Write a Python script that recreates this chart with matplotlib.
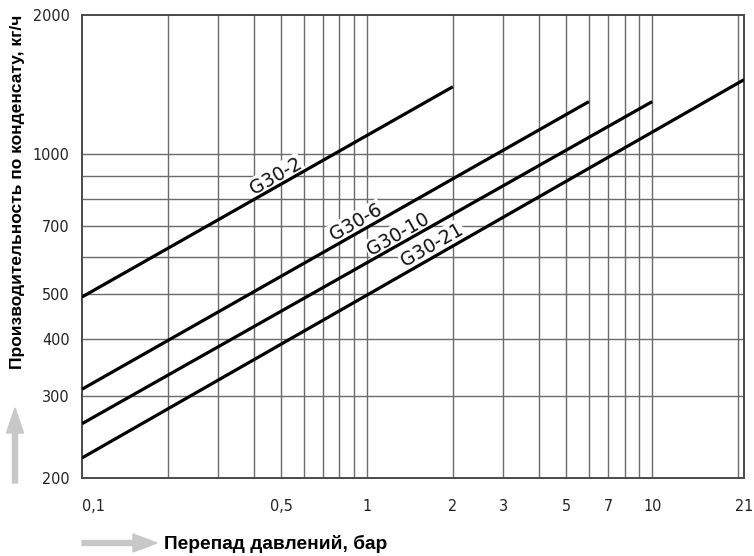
import numpy as np
import matplotlib
matplotlib.use("Agg")
import matplotlib.pyplot as plt
from matplotlib.patches import FancyArrow
from matplotlib import font_manager as fm

# ---- data ----
series = ["G30-2", "G30-6", "G30-10", "G30-21"]
x_start = [0.1, 0.1, 0.1, 0.1]
x_end = [2, 6, 10, 21]
y_start = [492, 311, 262, 221]
y_end = [1400, 1300, 1300, 1450]
label_x = [0.479, 0.915, 1.285, 1.69]
label_y = [898, 714, 673, 637]

xtick_vals = [0.1, 0.5, 1, 2, 3, 5, 7, 10, 21]
xtick_labels = ["0,1", "0,5", "1", "2", "3", "5", "7", "10", "21"]
ytick_vals = [200, 300, 400, 500, 700, 1000, 2000]
ytick_labels = ["200", "300", "400", "500", "700", "1000", "2000"]
xgrid_vals = [0.2, 0.3, 0.4, 0.5, 0.6, 0.7, 0.8, 0.9, 1, 2, 3, 4, 5, 6, 7, 8, 9, 10, 20]
ygrid_vals = [300, 400, 500, 600, 700, 800, 900, 1000]

xlabel = "Перепад давлений, бар"
ylabel = "Производительность по конденсату, кг/ч"

names = {f.name for f in fm.fontManager.ttflist}
tick_family = "DejaVu Sans"
tick_stretch = "normal"
tick_size = 9.5
for cand in ["DejaVu Sans Condensed", "Liberation Sans Narrow"]:
    if cand in names:
        tick_family = cand
        tick_size = 11.5
        break
else:
    if any(f.name == "DejaVu Sans" and f.stretch == "condensed" for f in fm.fontManager.ttflist):
        tick_stretch = "condensed"
        tick_size = 11.5

W, H = 754, 556
fig = plt.figure(figsize=(W / 100, H / 100), dpi=100)
ax = fig.add_axes([82 / W, 1 - 478 / H, (744 - 82) / W, (478 - 15) / H])
ax.set_xscale("log")
ax.set_yscale("log")
ax.set_xlim(0.1, 21)
ax.set_ylim(200, 2000)

for xv in xgrid_vals:
    ax.axvline(xv, color="#6a6a6a", lw=1.0, zorder=1)
for yv in ygrid_vals:
    ax.axhline(yv, color="#6a6a6a", lw=1.0, zorder=1)

for s in ax.spines.values():
    s.set_color("#4a4a4a")
    s.set_linewidth(1.4)

ax.minorticks_off()
ax.set_xticks(xtick_vals)
ax.set_xticklabels(xtick_labels)
ax.set_yticks(ytick_vals)
ax.set_yticklabels(ytick_labels)
ax.tick_params(axis="both", length=0, colors="#222222")
ax.tick_params(axis="x", pad=15)
ax.tick_params(axis="y", pad=9)
for t in ax.get_xticklabels() + ax.get_yticklabels():
    t.set_family(tick_family)
    t.set_fontstretch(tick_stretch)
    t.set_fontsize(tick_size)
ax.get_xticklabels()[0].set_ha("left")

for xs, xe, ys, ye in zip(x_start, x_end, y_start, y_end):
    ax.plot([xs, xe], [ys, ye], color="black", lw=2.3, zorder=3,
            solid_capstyle="butt")

for name, lx, ly, xs, xe, ys, ye in zip(series, label_x, label_y, x_start, x_end, y_start, y_end):
    p1 = ax.transData.transform((xs, ys))
    p2 = ax.transData.transform((xe, ye))
    ang = np.degrees(np.arctan2(p2[1] - p1[1], p2[0] - p1[0]))
    ax.text(lx, ly, name, rotation=ang, rotation_mode="anchor",
            ha="center", va="center", fontsize=13.5, color="#111111",
            zorder=2.5, family="DejaVu Sans",
            bbox=dict(facecolor="white", edgecolor="none", pad=1.0))

fig.text(18 / W, 1 - 192 / H, ylabel, rotation=90, ha="center", va="center",
         fontsize=12.5, fontweight="bold", family="Liberation Sans")
fig.text(164 / W, 1 - 544 / H, xlabel, ha="left", va="center",
         fontsize=13.8, fontweight="bold", family="Liberation Sans")

tr = fig.dpi_scale_trans
fig.add_artist(FancyArrow(15 / 100, (H - 483) / 100, 0, 0.75, width=0.05,
                          head_width=0.17, head_length=0.25,
                          length_includes_head=True, color="#c8c8c8",
                          transform=tr))
fig.add_artist(FancyArrow(82 / 100, (H - 543) / 100, 0.75, 0, width=0.05,
                          head_width=0.18, head_length=0.24,
                          length_includes_head=True, color="#c8c8c8",
                          transform=tr))

fig.savefig("out.png", dpi=100)
